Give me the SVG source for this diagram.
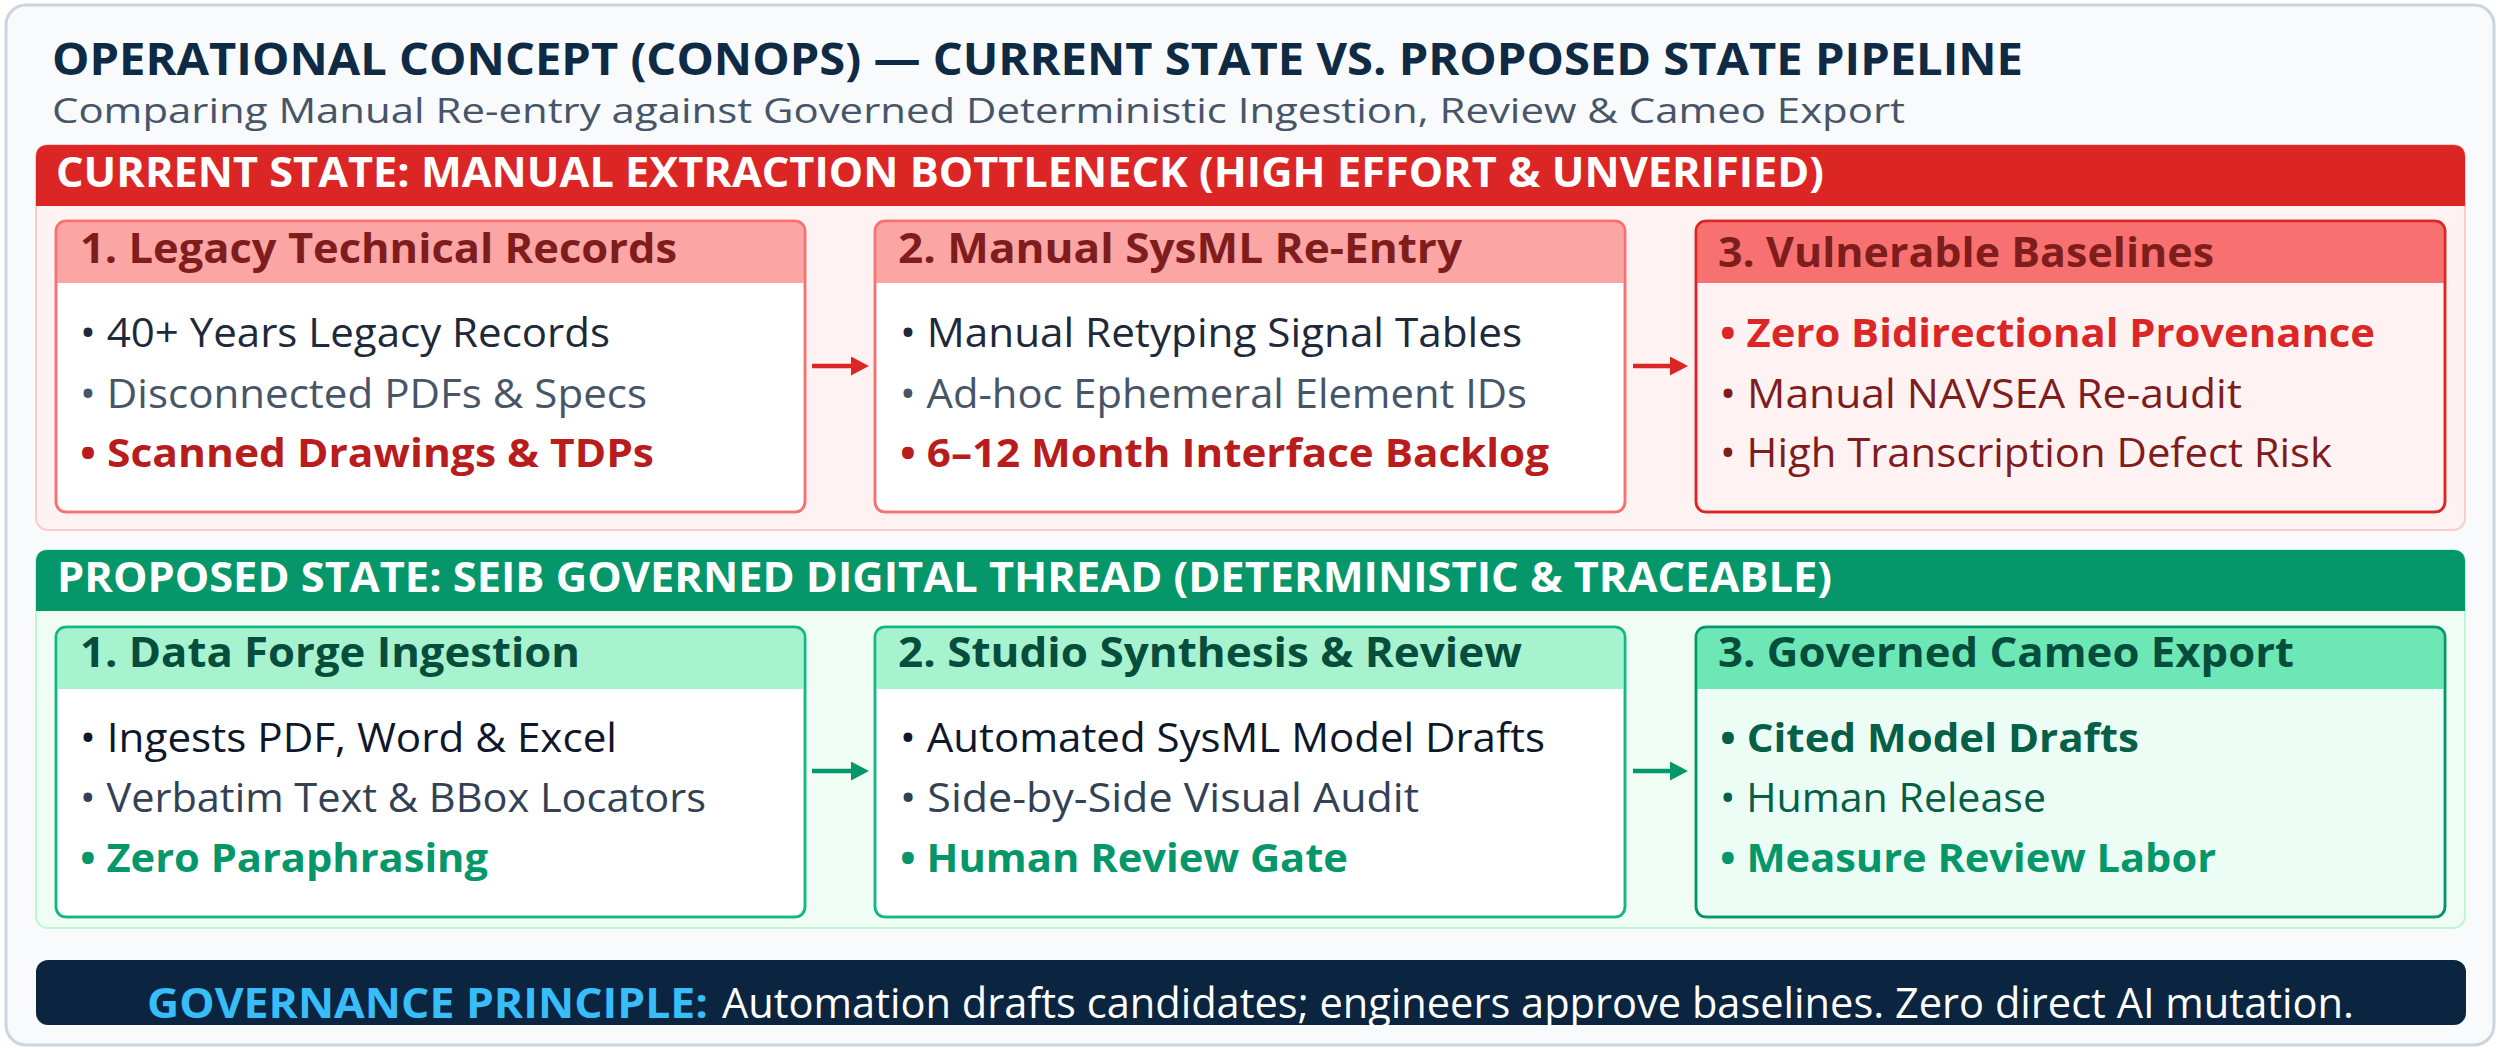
<svg xmlns="http://www.w3.org/2000/svg" width="2500" height="1050" viewBox="0 0 2500 1050">
<defs>
<style>
text{font-family:"Open Sans","Noto Sans","Liberation Sans",sans-serif;}
.title{font-size:44px;font-weight:700;fill:#0f2a44;}
.sub{font-size:34px;fill:#475569;}
.band{font-size:41px;font-weight:700;fill:#ffffff;}
.hd{font-size:42px;font-weight:700;}
.hr{fill:#7f1d1d;}
.hg{fill:#064e3b;}
.b{font-size:40px;}
.bb{font-size:40px;font-weight:700;}
.foot{font-size:42px;}
.nodeR{fill:#ffffff;stroke:#f87171;stroke-width:2.5;}
.nodeR3{fill:#fef2f2;stroke:#dc2626;stroke-width:2.5;}
.nodeG{fill:#ffffff;stroke:#10b981;stroke-width:2.5;}
.nodeG3{fill:#ecfdf5;stroke:#059669;stroke-width:2.5;}
.outline{fill:none;}
</style>
<marker id="arR" markerUnits="userSpaceOnUse" markerWidth="18" markerHeight="19" refX="0" refY="9.5" orient="auto"><path d="M0,0 L18,9.5 L0,19 Z" fill="#dc2626"/></marker>
<marker id="arG" markerUnits="userSpaceOnUse" markerWidth="18" markerHeight="19" refX="0" refY="9.5" orient="auto"><path d="M0,0 L18,9.5 L0,19 Z" fill="#059669"/></marker>
</defs>

<rect x="6" y="5" width="2488" height="1040" rx="20" fill="#f8fafc" stroke="#cbd5e1" stroke-width="3"/>

<g id="header">
<text class="title" x="52" y="75" textLength="1971" lengthAdjust="spacingAndGlyphs">OPERATIONAL CONCEPT (CONOPS) — CURRENT STATE VS. PROPOSED STATE PIPELINE</text>
<text class="sub" x="52" y="123" textLength="1853" lengthAdjust="spacingAndGlyphs">Comparing Manual Re-entry against Governed Deterministic Ingestion, Review &amp; Cameo Export</text>
</g>

<g id="current-panel">
<rect x="36" y="145" width="2429" height="385" rx="12" fill="#fef2f2" stroke="#fecaca" stroke-width="2"/>
<path d="M36,157 Q36,145 48,145 L2453,145 Q2465,145 2465,157 L2465,206 L36,206 Z" fill="#dc2626"/>
<text class="band" x="56" y="187" textLength="1768" lengthAdjust="spacingAndGlyphs">CURRENT STATE: MANUAL EXTRACTION BOTTLENECK (HIGH EFFORT &amp; UNVERIFIED)</text>
</g>

<g id="proposed-panel">
<rect x="36" y="550" width="2429" height="378" rx="12" fill="#f0fdf4" stroke="#bbf7d0" stroke-width="2"/>
<path d="M36,562 Q36,550 48,550 L2453,550 Q2465,550 2465,562 L2465,611 L36,611 Z" fill="#059669"/>
<text class="band" x="57" y="592" textLength="1775" lengthAdjust="spacingAndGlyphs">PROPOSED STATE: SEIB GOVERNED DIGITAL THREAD (DETERMINISTIC &amp; TRACEABLE)</text>
</g>

<g id="connectors">
<line x1="812" y1="366" x2="851" y2="366" stroke="#dc2626" stroke-width="4.5" marker-end="url(#arR)"/>
<line x1="1633" y1="366" x2="1670" y2="366" stroke="#dc2626" stroke-width="4.5" marker-end="url(#arR)"/>
<line x1="812" y1="771" x2="851" y2="771" stroke="#059669" stroke-width="4.5" marker-end="url(#arG)"/>
<line x1="1633" y1="771" x2="1670" y2="771" stroke="#059669" stroke-width="4.5" marker-end="url(#arG)"/>
</g>

<g id="cur-1">
<rect class="nodeR" x="56" y="221" width="749" height="291" rx="10"/>
<path d="M56,231 Q56,221 66,221 L795,221 Q805,221 805,231 L805,283 L56,283 Z" fill="#fca5a5"/>
<rect class="nodeR outline" x="56" y="221" width="749" height="291" rx="10"/>
<text class="hd hr" x="80" y="263" textLength="597" lengthAdjust="spacingAndGlyphs">1. Legacy Technical Records</text>
<text class="b" x="80" y="347" fill="#1e293b" textLength="530" lengthAdjust="spacingAndGlyphs">• 40+ Years Legacy Records</text>
<text class="b" x="80" y="408" fill="#475569" textLength="567" lengthAdjust="spacingAndGlyphs">• Disconnected PDFs &amp; Specs</text>
<text class="bb" x="80" y="467" fill="#b91c1c" textLength="574" lengthAdjust="spacingAndGlyphs">• Scanned Drawings &amp; TDPs</text>
</g>

<g id="cur-2">
<rect class="nodeR" x="875" y="221" width="750" height="291" rx="10"/>
<path d="M875,231 Q875,221 885,221 L1615,221 Q1625,221 1625,231 L1625,283 L875,283 Z" fill="#fca5a5"/>
<rect class="nodeR outline" x="875" y="221" width="750" height="291" rx="10"/>
<text class="hd hr" x="898" y="263" textLength="564" lengthAdjust="spacingAndGlyphs">2. Manual SysML Re-Entry</text>
<text class="b" x="900" y="347" fill="#1e293b" textLength="622" lengthAdjust="spacingAndGlyphs">• Manual Retyping Signal Tables</text>
<text class="b" x="900" y="408" fill="#475569" textLength="627" lengthAdjust="spacingAndGlyphs">• Ad-hoc Ephemeral Element IDs</text>
<text class="bb" x="900" y="467" fill="#b91c1c" textLength="649" lengthAdjust="spacingAndGlyphs">• 6–12 Month Interface Backlog</text>
</g>

<g id="cur-3">
<rect class="nodeR3" x="1696" y="221" width="749" height="291" rx="10"/>
<path d="M1696,231 Q1696,221 1706,221 L2435,221 Q2445,221 2445,231 L2445,283 L1696,283 Z" fill="#f87171"/>
<rect class="nodeR3 outline" x="1696" y="221" width="749" height="291" rx="10"/>
<text class="hd hr" x="1718" y="267" textLength="496" lengthAdjust="spacingAndGlyphs">3. Vulnerable Baselines</text>
<text class="bb" x="1720" y="347" fill="#dc2626" textLength="655" lengthAdjust="spacingAndGlyphs">• Zero Bidirectional Provenance</text>
<text class="b" x="1720" y="408" fill="#7f1d1d" textLength="522" lengthAdjust="spacingAndGlyphs">• Manual NAVSEA Re-audit</text>
<text class="b" x="1720" y="467" fill="#7f1d1d" textLength="612" lengthAdjust="spacingAndGlyphs">• High Transcription Defect Risk</text>
</g>

<g id="prop-1">
<rect class="nodeG" x="56" y="627" width="749" height="290" rx="10"/>
<path d="M56,637 Q56,627 66,627 L795,627 Q805,627 805,637 L805,689 L56,689 Z" fill="#a7f3d0"/>
<rect class="nodeG outline" x="56" y="627" width="749" height="290" rx="10"/>
<text class="hd hg" x="80" y="667" textLength="500" lengthAdjust="spacingAndGlyphs">1. Data Forge Ingestion</text>
<text class="b" x="80" y="752" fill="#0f172a" textLength="537" lengthAdjust="spacingAndGlyphs">• Ingests PDF, Word &amp; Excel</text>
<text class="b" x="80" y="812" fill="#334155" textLength="626" lengthAdjust="spacingAndGlyphs">• Verbatim Text &amp; BBox Locators</text>
<text class="bb" x="80" y="872" fill="#059669" textLength="408" lengthAdjust="spacingAndGlyphs">• Zero Paraphrasing</text>
</g>

<g id="prop-2">
<rect class="nodeG" x="875" y="627" width="750" height="290" rx="10"/>
<path d="M875,637 Q875,627 885,627 L1615,627 Q1625,627 1625,637 L1625,689 L875,689 Z" fill="#a7f3d0"/>
<rect class="nodeG outline" x="875" y="627" width="750" height="290" rx="10"/>
<text class="hd hg" x="898" y="667" textLength="624" lengthAdjust="spacingAndGlyphs">2. Studio Synthesis &amp; Review</text>
<text class="b" x="900" y="752" fill="#0f172a" textLength="645" lengthAdjust="spacingAndGlyphs">• Automated SysML Model Drafts</text>
<text class="b" x="900" y="812" fill="#334155" textLength="519" lengthAdjust="spacingAndGlyphs">• Side-by-Side Visual Audit</text>
<text class="bb" x="900" y="872" fill="#059669" textLength="448" lengthAdjust="spacingAndGlyphs">• Human Review Gate</text>
</g>

<g id="prop-3">
<rect class="nodeG3" x="1696" y="627" width="749" height="290" rx="10"/>
<path d="M1696,637 Q1696,627 1706,627 L2435,627 Q2445,627 2445,637 L2445,689 L1696,689 Z" fill="#6ee7b7"/>
<rect class="nodeG3 outline" x="1696" y="627" width="749" height="290" rx="10"/>
<text class="hd hg" x="1718" y="667" textLength="576" lengthAdjust="spacingAndGlyphs">3. Governed Cameo Export</text>
<text class="bb" x="1720" y="752" fill="#065f46" textLength="419" lengthAdjust="spacingAndGlyphs">• Cited Model Drafts</text>
<text class="b" x="1720" y="812" fill="#065f46" textLength="326" lengthAdjust="spacingAndGlyphs">• Human Release</text>
<text class="bb" x="1720" y="872" fill="#059669" textLength="496" lengthAdjust="spacingAndGlyphs">• Measure Review Labor</text>
</g>

<g id="governance">
<rect x="36" y="960" width="2430" height="65" rx="12" fill="#0b2540"/>
<text class="foot" x="147" y="1018" font-weight="700" fill="#38bdf8" textLength="561" lengthAdjust="spacingAndGlyphs">GOVERNANCE PRINCIPLE:</text>
<text class="foot" x="722" y="1018" fill="#ffffff" textLength="1632" lengthAdjust="spacingAndGlyphs">Automation drafts candidates; engineers approve baselines. Zero direct AI mutation.</text>
</g>
</svg>
